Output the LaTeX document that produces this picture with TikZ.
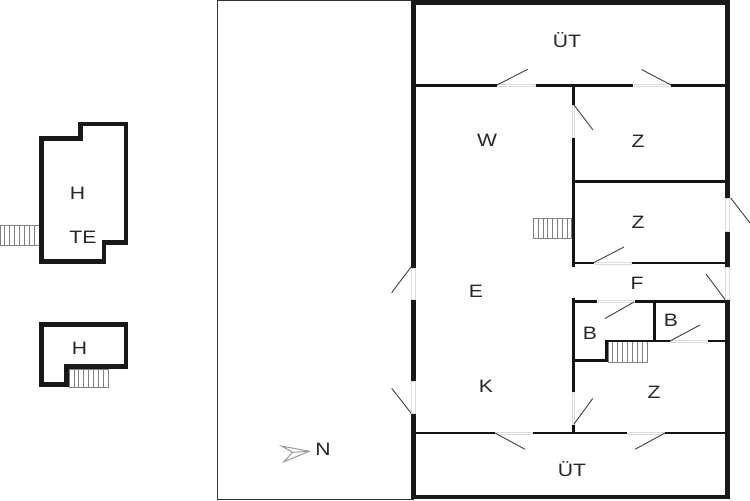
\documentclass[tikz,border=0pt]{standalone}
\usepackage{fontspec}
\setmainfont[FakeStretch=1.18]{Liberation Sans}
\tikzset{
  thickwall/.style={line width=0.098cm,black!90,line join=miter},
  thinwall/.style={line width=0.054cm,black!92},
  midwall/.style={line width=0.062cm,black!92},
  leaf/.style={line width=0.018cm,black!75},
  opening/.style={line width=0.012cm,draw=black!14,fill=white},
  stairs/.style={line width=0.016cm,black!50},
  lbl/.style={inner sep=0pt,font=\fontsize{10.2pt}{12pt}\selectfont,text=black!85},
  plot/.style={line width=0.02cm,black!80},
  north/.style={line width=0.02cm,black!40,line join=miter}
}
\newcommand{\stairrun}[5]{% x0, y0, y1, step, count
  \draw[stairs] (#1,#2) rectangle ({#1+#4*#5},#3);
  \foreach \i in {1,...,#5} \draw[stairs] ({#1+#4*\i},#2) -- ({#1+#4*\i},#3);
}
\begin{document}
\begin{tikzpicture}[x=0.02cm,y=-0.02cm]
\useasboundingbox (0,0) rectangle (750,500);
\fill[white] (0,0) rectangle (750,500);
% plot boundary
\draw[plot] (217.5,0.5) rectangle (413,499);
% stairs
\stairrun{0}{225}{245}{4.88}{8}
\stairrun{69}{369}{387.3}{4.9}{8}
\stairrun{533.3}{218.3}{238.3}{4.8}{8}
\stairrun{608}{341}{362}{4.88}{8}
% annexes
\draw[thickwall] (41.8,138.3) -- (80.5,138.3) -- (80.5,124) -- (126,124) -- (126,242.8) -- (104,242.8) -- (104,261.8) -- (41.8,261.8) -- cycle;
\draw[thickwall] (41.8,324.3) -- (126,324.3) -- (126,366.7) -- (66.7,366.7) -- (66.7,384.8) -- (41.8,384.8) -- cycle;
% outer walls of the house
\draw[thickwall] (411,2.3) -- (730,2.3);
\draw[thickwall] (411,497) -- (730,497);
\draw[thickwall] (413.5,0) -- (413.5,268);
\draw[thickwall] (413.5,299) -- (413.5,381.7);
\draw[thickwall] (413.5,413) -- (413.5,499);
\draw[thickwall] (727.5,0) -- (727.5,198);
\draw[thickwall] (727.5,231) -- (727.5,267);
\draw[thickwall] (727.5,299) -- (727.5,499);
% openings in outer walls
\filldraw[opening] (411.5,268) rectangle (415.5,299);
\filldraw[opening] (411.5,381.7) rectangle (415.5,413);
\filldraw[opening] (725.5,198) rectangle (729.5,231);
\filldraw[opening] (725.5,267) rectangle (729.5,299);
% horizontal inner walls
\draw[thinwall] (416,85.7) -- (497,85.7);
\draw[thinwall] (536,85.7) -- (633,85.7);
\draw[thinwall] (671,85.7) -- (725,85.7);
\draw[thinwall] (573,181.5) -- (725,181.5);
\draw[thinwall] (573,263) -- (594,263);
\draw[thinwall] (632,263) -- (725,263);
\draw[thinwall] (573,301.5) -- (597,301.5);
\draw[thinwall] (635,301.5) -- (725,301.5);
\draw[thinwall] (606,341) -- (670,341);
\draw[thinwall] (708,341) -- (725,341);
\draw[thinwall] (573,360.5) -- (607.5,360.5);
\draw[thinwall] (416,433) -- (495,433);
\draw[thinwall] (533,433) -- (627,433);
\draw[thinwall] (665,433) -- (725,433);
% vertical inner walls
\draw[midwall] (573.3,85) -- (573.3,105);
\draw[thinwall] (573.3,137) -- (573.3,267);
\draw[thinwall] (573.3,298) -- (573.3,361);
\draw[midwall] (573.3,361) -- (573.3,392);
\draw[midwall] (573.3,424) -- (573.3,433);
\draw[midwall] (654.4,301) -- (654.4,341);
\draw[midwall] (606.3,340) -- (606.3,361.5);
% door openings
\filldraw[opening] (498,84.7) rectangle (535,86.7);
\filldraw[opening] (634,84.7) rectangle (670,86.7);
\filldraw[opening] (572.3,105) rectangle (574.3,137);
\filldraw[opening] (595,262) rectangle (631,264);
\filldraw[opening] (598,300.5) rectangle (634,302.5);
\filldraw[opening] (671,340) rectangle (707,342);
\filldraw[opening] (572.3,392) rectangle (574.3,424);
\filldraw[opening] (496,432) rectangle (532,434);
\filldraw[opening] (628,432) rectangle (664,434);
% door leaves
\draw[leaf] (497,85) -- (527.7,69.3);
\draw[leaf] (671,85) -- (641.5,69.5);
\draw[leaf] (574,105) -- (593,130);
\draw[leaf] (730.7,198) -- (750,223);
\draw[leaf] (594,262.5) -- (624,247);
\draw[leaf] (706,274) -- (725,299.5);
\draw[leaf] (634,302) -- (605,318.5);
\draw[leaf] (670,341) -- (700,325);
\draw[leaf] (574,424) -- (592.7,398.5);
\draw[leaf] (495,433) -- (525,449.3);
\draw[leaf] (665,433) -- (635,449.3);
\draw[leaf] (411,267) -- (391.7,292.7);
\draw[leaf] (411,413) -- (391.7,388.3);
% north arrow
\draw[north] (309.3,451.3) -- (281.7,446) -- (292.5,452.3) -- (284,461.7) -- cycle;
\draw[north] (292.5,452.3) -- (309.3,451.3);
% labels
\node[lbl] (ut1) at (567,40) {ÜT};
\node[lbl] (ut2) at (572,469) {ÜT};
\node[lbl] (w) at (487,140) {W};
\node[lbl] (z1) at (638,141) {Z};
\node[lbl] (z2) at (638,222) {Z};
\node[lbl] (f) at (637,283) {F};
\node[lbl] (e) at (476,291) {E};
\node[lbl] (b1) at (590,333) {B};
\node[lbl] (b2) at (671,320) {B};
\node[lbl] (k) at (486,386) {K};
\node[lbl] (z3) at (654,392) {Z};
\node[lbl] (h1) at (77.5,193) {H};
\node[lbl] (te) at (83,237) {TE};
\node[lbl] (h2) at (79.5,348) {H};
\node[lbl] (n) at (323,449.5) {N};
\end{tikzpicture}
\end{document}
